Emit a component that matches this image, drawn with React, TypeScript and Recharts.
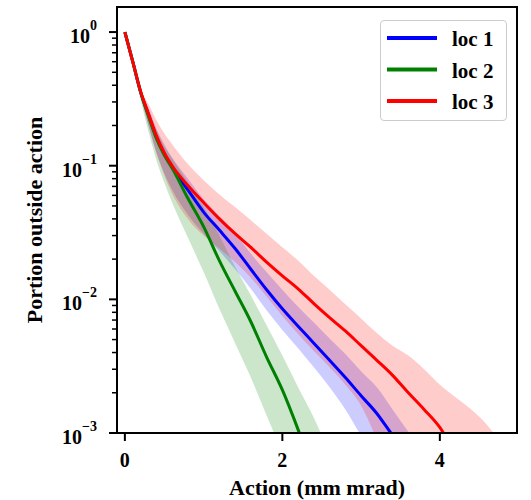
import React from "react";
import {
  ComposedChart,
  Line,
  Area,
  XAxis,
  YAxis,
  Legend,
  Label,
  ReferenceArea,
} from "recharts";

const FONT = '"Liberation Serif", "Times New Roman", serif';

// action values (mm mrad)
const ACTION = [
  0, 0.1, 0.2, 0.3, 0.4, 0.5, 0.6, 0.8, 1.0, 1.2, 1.4, 1.6, 1.8, 2.0, 2.2, 2.4,
  2.6, 2.8, 3.0, 3.2, 3.4, 3.6, 3.8, 4.0, 4.2, 4.4, 4.6, 4.8,
];

// loc 1 (blue)
const LOC1 = [
  1, 0.6, 0.355, 0.24, 0.163, 0.122, 0.097, 0.066, 0.045, 0.033, 0.024, 0.0168,
  0.0118, 0.0085, 0.0063, 0.0047, 0.0035, 0.0026, 0.0019, 0.0014, 0.00096,
  0.00068, null, null, null, null, null, null,
];
const LOC1_LO = [
  1, 0.58, 0.33, 0.2, 0.125, 0.088, 0.066, 0.043, 0.031, 0.023, 0.0168, 0.012,
  0.0083, 0.0059, 0.0043, 0.0031, 0.0022, 0.0015, 0.00095, 0.0006, 0.0004,
  0.00025, 0.00015, null, null, null, null, null,
];
const LOC1_HI = [
  1, 0.62, 0.37, 0.27, 0.19, 0.145, 0.115, 0.08, 0.056, 0.042, 0.031, 0.022,
  0.016, 0.0118, 0.0088, 0.0067, 0.0051, 0.0039, 0.0029, 0.0022, 0.0015,
  0.00102, 0.0007, null, null, null, null, null,
];

// loc 2 (green)
const LOC2 = [
  1, 0.6, 0.355, 0.235, 0.16, 0.12, 0.096, 0.057, 0.035, 0.0195, 0.0115,
  0.0068, 0.0037, 0.0021, 0.00106, 0.0005, null, null, null, null, null, null,
  null, null, null, null, null, null,
];
const LOC2_LO = [
  1, 0.57, 0.31, 0.18, 0.11, 0.075, 0.053, 0.029, 0.016, 0.0085, 0.0047,
  0.0026, 0.00135, 0.0007, 0.0003, 0.00015, 0.0001, null, null, null, null,
  null, null, null, null, null, null, null,
];
const LOC2_HI = [
  1, 0.62, 0.37, 0.26, 0.185, 0.14, 0.113, 0.075, 0.049, 0.03, 0.0175, 0.0107,
  0.0064, 0.0038, 0.0022, 0.0013, 0.0007, null, null, null, null, null, null,
  null, null, null, null, null,
];

// loc 3 (red)
const LOC3 = [
  1, 0.6, 0.36, 0.245, 0.168, 0.125, 0.1, 0.071, 0.053, 0.04, 0.031, 0.0245,
  0.019, 0.015, 0.012, 0.0093, 0.0073, 0.0058, 0.0045, 0.0035, 0.0027, 0.002,
  0.0015, 0.0011, 0.0007, 0.00045, null, null,
];
const LOC3_LO = [
  1, 0.58, 0.33, 0.2, 0.125, 0.085, 0.062, 0.04, 0.03, 0.024, 0.019, 0.0145,
  0.0105, 0.0075, 0.0055, 0.0041, 0.0031, 0.0023, 0.0016, 0.0009, 0.0005,
  0.0003, 0.0002, 0.0001, 0.00008, 0.00006, 0.00005, 0.00004,
];
const LOC3_HI = [
  1, 0.61, 0.37, 0.29, 0.22, 0.175, 0.145, 0.103, 0.078, 0.061, 0.049, 0.039,
  0.031, 0.0245, 0.0195, 0.015, 0.0118, 0.0092, 0.0072, 0.0056, 0.0045,
  0.0038, 0.003, 0.0023, 0.00185, 0.0015, 0.00115, 0.0008,
];

const SERIES = [
  { key: "loc1", name: "loc 1", color: "#0000ff", line: LOC1, lo: LOC1_LO, hi: LOC1_HI },
  { key: "loc2", name: "loc 2", color: "#008000", line: LOC2, lo: LOC2_LO, hi: LOC2_HI },
  { key: "loc3", name: "loc 3", color: "#ff0000", line: LOC3, lo: LOC3_LO, hi: LOC3_HI },
];

const X_TICKS = [0, 2, 4];
const Y_MAJOR = [0.001, 0.01, 0.1, 1];
const Y_EXP = ["\u22123", "\u22122", "\u22121", "0"];
const Y_TICKS = [
  0.001, 0.002, 0.003, 0.004, 0.005, 0.006, 0.007, 0.008, 0.009,
  0.01, 0.02, 0.03, 0.04, 0.05, 0.06, 0.07, 0.08, 0.09,
  0.1, 0.2, 0.3, 0.4, 0.5, 0.6, 0.7, 0.8, 0.9,
  1,
];

const rows = ACTION.map((x, i) => {
  const row: Record<string, any> = { x };
  SERIES.forEach((s) => {
    row[s.key] = s.line[i];
    row[s.key + "Band"] =
      s.lo[i] != null && s.hi[i] != null ? [s.lo[i], s.hi[i]] : null;
  });
  return row;
});

function YTick({ x, y, payload }: any) {
  const i = Y_MAJOR.indexOf(payload.value);
  const major = i >= 0;
  return (
    <g>
      <line
        x1={x}
        x2={x - (major ? 8 : 5)}
        y1={y}
        y2={y}
        stroke="#000"
        strokeWidth={major ? 2 : 1.5}
      />
      {major && (
        <text
          x={x - 20}
          y={y + 11}
          textAnchor="end"
          fontFamily={FONT}
          fontWeight="bold"
          fontSize={20}
          fill="#000"
        >
          10
          <tspan dy={-13} fontSize={14}>
            {Y_EXP[i]}
          </tspan>
        </text>
      )}
    </g>
  );
}

function XTick({ x, y, payload }: any) {
  return (
    <g>
      <line x1={x} x2={x} y1={y} y2={y + 8} stroke="#000" strokeWidth={2} />
      <text
        x={x}
        y={y + 34}
        textAnchor="middle"
        fontFamily={FONT}
        fontWeight="bold"
        fontSize={20}
        fill="#000"
      >
        {payload.value}
      </text>
    </g>
  );
}

function LegendBox() {
  return (
    <div
      style={{
        width: 127,
        height: 101,
        boxSizing: "border-box",
        border: "1px solid #cccccc",
        borderRadius: 4,
        background: "rgba(255,255,255,0.8)",
      }}
    >
      <svg width={125} height={99} style={{ display: "block" }}>
        {SERIES.map((s, i) => {
          const cy = 17 + i * 31.5;
          return (
            <g key={s.key}>
              <line x1={6} x2={56} y1={cy} y2={cy} stroke={s.color} strokeWidth={4} />
              <text
                x={71}
                y={cy + 8}
                fontFamily={FONT}
                fontWeight="bold"
                fontSize={21}
                fill="#000"
              >
                {s.name}
              </text>
            </g>
          );
        })}
      </svg>
    </div>
  );
}

export default function App() {
  return (
    <div style={{ position: "absolute", left: 0, top: 0 }}>
      <ComposedChart
        width={531}
        height={500}
        data={rows}
        margin={{ top: 7, right: 14, bottom: 0, left: 0 }}
      >
        <XAxis
          dataKey="x"
          type="number"
          domain={[-0.1, 4.98]}
          allowDataOverflow
          ticks={X_TICKS}
          interval={0}
          tickSize={0}
          tickMargin={0}
          tick={<XTick />}
          height={67}
          axisLine={{ stroke: "#000", strokeWidth: 2 }}
        >
          <Label
            content={({ viewBox }: any) => (
              <text
                x={viewBox.x + viewBox.width / 2}
                y={viewBox.y + 62}
                textAnchor="middle"
                fontFamily={FONT}
                fontWeight="bold"
                fontSize={22}
                fill="#000"
              >
                Action (mm mrad)
              </text>
            )}
          />
        </XAxis>
        <YAxis
          scale="log"
          domain={[0.001, 1.54]}
          allowDataOverflow
          ticks={Y_TICKS}
          interval={0}
          tickSize={0}
          tickMargin={0}
          tick={<YTick />}
          width={117}
          axisLine={{ stroke: "#000", strokeWidth: 2 }}
        >
          <Label
            content={({ viewBox }: any) => {
              const cx = 42;
              const cy = viewBox.y + viewBox.height / 2;
              return (
                <text
                  x={cx}
                  y={cy}
                  transform={`rotate(-90, ${cx}, ${cy})`}
                  textAnchor="middle"
                  fontFamily={FONT}
                  fontWeight="bold"
                  fontSize={22}
                  fill="#000"
                >
                  Portion outside action
                </text>
              );
            }}
          />
        </YAxis>
        {SERIES.map((s) => (
          <Area
            key={s.key + "Band"}
            dataKey={s.key + "Band"}
            type="monotone"
            stroke="none"
            fill={s.color}
            fillOpacity={0.2}
            dot={false}
            activeDot={false}
            legendType="none"
            isAnimationActive={false}
          />
        ))}
        {SERIES.map((s) => (
          <Line
            key={s.key}
            dataKey={s.key}
            name={s.name}
            type="monotone"
            stroke={s.color}
            strokeWidth={3}
            dot={false}
            activeDot={false}
            isAnimationActive={false}
          />
        ))}
        <ReferenceArea
          x1={-0.1}
          x2={4.98}
          y1={0.001}
          y2={1.54}
          fill="none"
          stroke="#000"
          strokeWidth={2}
          ifOverflow="visible"
        />
        <Legend
          layout="vertical"
          align="center"
          verticalAlign="middle"
          wrapperStyle={{ left: 380, top: 20, width: 127, height: 101 }}
          content={() => <LegendBox />}
        />
      </ComposedChart>
    </div>
  );
}
